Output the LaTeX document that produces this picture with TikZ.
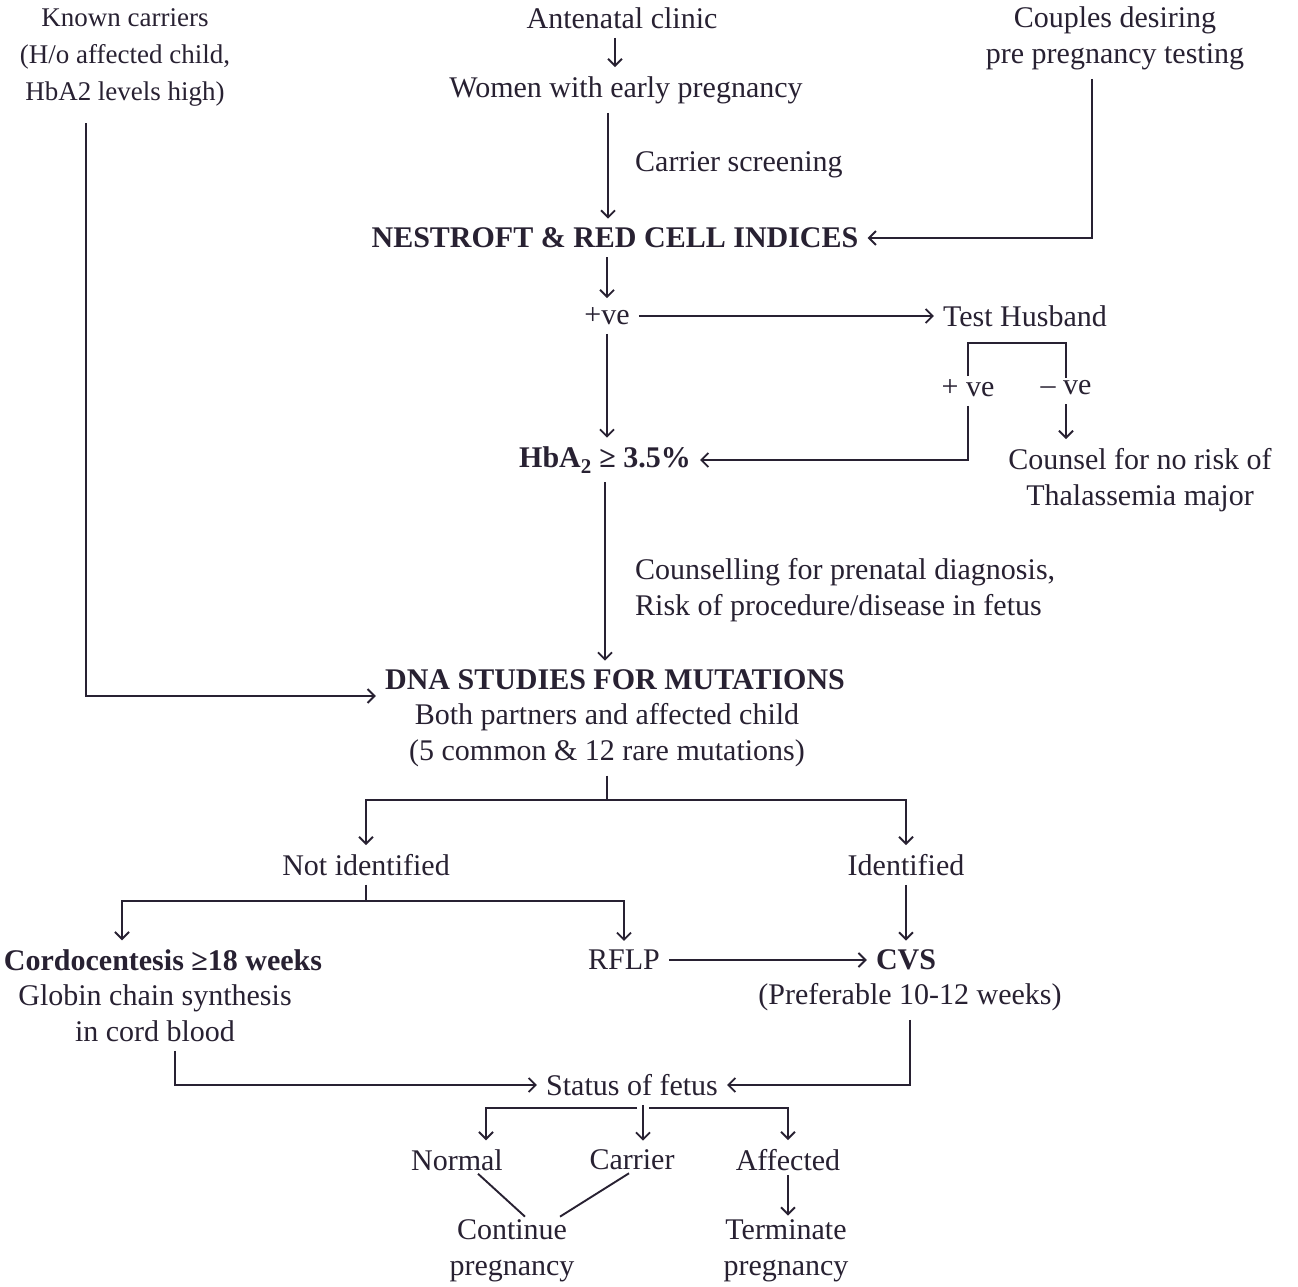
\documentclass[tikz,border=0pt]{standalone}
\usepackage{fontspec}
\setmainfont{Liberation Serif}
\usetikzlibrary{arrows.meta}
\definecolor{inkc}{RGB}{40,33,50}

\begin{document}
\begin{tikzpicture}[x=1pt, y=-1pt,
    txt/.style={inkc, font=\fontsize{30}{36}\selectfont, align=center, inner sep=3pt},
    bld/.style={txt, font=\fontsize{30}{36}\selectfont\bfseries},
    lbl/.style={txt, anchor=west, align=left},
    ln/.style={draw=inkc, line width=1.9pt},
    arr/.style={ln, -{Straight Barb[length=7pt, width=14pt]}, shorten <=6pt, shorten >=6pt}]
      \fill[white] (0,0) rectangle (1298,1287);
      \useasboundingbox (0,0) rectangle (1298,1287);
      % sources
      \node[txt, font=\fontsize{27}{37}\selectfont] (known) at (125,57) {Known carriers\\(H/o affected child,\\HbA2 levels high)};
      \node[txt] (clinic) at (622,18) {Antenatal clinic};
      \node[txt] (women) at (626,90) {Women with early pregnancy};
      \node[txt] (couples) at (1115,38) {Couples desiring\\pre pregnancy testing};
      % screening
      \node[bld] (nestroft) at (615,238) {NESTROFT \& RED CELL INDICES};
      \node[lbl] (carrscr) at (632,165) {Carrier screening};
      \node[txt] (pos) at (607,316) {+ve};
      \node[txt] (husband) at (1025,316) {Test Husband};
      \node[txt] (hpos) at (968,388) {+ ve};
      \node[txt] (hneg) at (1066,388) {– ve};
      \node[txt] (counsel) at (1140,480) {Counsel for no risk of\\Thalassemia major};
      \node[bld] (hba) at (605,460) {HbA\textsubscript{2} ≥ 3.5\%};
      \node[lbl] (prenatal) at (632,590) {Counselling for prenatal diagnosis,\\Risk of procedure/disease in fetus};
      % DNA studies
      \node[bld] (dna) at (615,680) {DNA STUDIES FOR MUTATIONS};
      \node[txt] (dnasub) at (607,735) {Both partners and affected child\\(5 common \& 12 rare mutations)};
      \node[txt] (notid) at (366,865) {Not identified};
      \node[txt] (idf) at (906,865) {Identified};
      \node[bld] (cordo) at (163,960) {Cordocentesis ≥18 weeks};
      \node[txt] (cordosub) at (155,1013) {Globin chain synthesis\\in cord blood};
      \node[txt] (rflp) at (624,960) {RFLP};
      \node[bld] (cvs) at (906,960) {CVS};
      \node[txt] (cvssub) at (910,997) {(Preferable 10-12 weeks)};
      % outcome
      \node[txt] (status) at (632,1085) {Status of fetus};
      \node[txt] (normal) at (457,1160) {Normal};
      \node[txt] (carrier) at (632,1160) {Carrier};
      \node[txt] (affected) at (788,1160) {Affected};
      \node[txt] (cont) at (512,1251) {Continue\\pregnancy};
      \node[txt] (term) at (786,1251) {Terminate\\pregnancy};
      \coordinate (brk) at (1018,343);
      \coordinate (fsplit) at (643,1108);

      \draw[arr] ([xshift=-39pt,yshift=-8pt]known.south) |- ([yshift=-16pt]dna.west);
      \draw[arr] ([xshift=-7pt]clinic.south) -- ([xshift=-7pt]clinic.south |- women.north);
      \draw[arr] ([xshift=-18pt]women.south) -- ([xshift=-18pt]women.south |- nestroft.north);
      \draw[arr] ([xshift=-23pt]couples.south) |- (nestroft.east);
      \draw[arr] (nestroft.south -| pos) -- (pos.north);
      \draw[arr] (pos) -- (husband);
      \draw[arr] (pos.south) -- (pos.south |- hba.north);
      \draw[ln] (hpos.north) |- (brk) -| (hneg.north);
      \draw[arr] (hpos.south) |- (hba.east);
      \draw[arr] (hneg.south) -- (hneg.south |- counsel.north);
      \draw[arr] (hba.south) -- (hba.south |- dna.north);
      \draw[arr] (dnasub.south) -- ++(0,30) -| (notid.north);
      \draw[arr] (dnasub.south) -- ++(0,30) -| (idf.north);
      \draw[arr] (notid.south) -- ++(0,22) -| ([xshift=-41pt]cordo.north);
      \draw[arr] (notid.south) -- ++(0,22) -| (rflp.north);
      \draw[arr] (idf.south) -- (cvs.north);
      \draw[arr] (rflp) -- (cvs);
      \draw[arr] ([xshift=20pt]cordosub.south) |- (status.west);
      \draw[arr] (cvssub.south) |- (status.east);
      \draw[arr] (fsplit) -| ([xshift=29pt]normal.north);
      \draw[arr] ([xshift=11pt]status.south) -- ([xshift=11pt]carrier.north);
      \draw[arr] (fsplit) -| (affected.north);
      \draw[ln] ([xshift=21pt]normal.south) -- ([xshift=13pt]cont.north);
      \draw[ln] ([xshift=-3pt]carrier.south) -- ([xshift=48pt]cont.north);
      \draw[arr, shorten <=1pt, shorten >=1pt] (affected.south) -- (affected.south |- term.north);
\end{tikzpicture}
\end{document}
